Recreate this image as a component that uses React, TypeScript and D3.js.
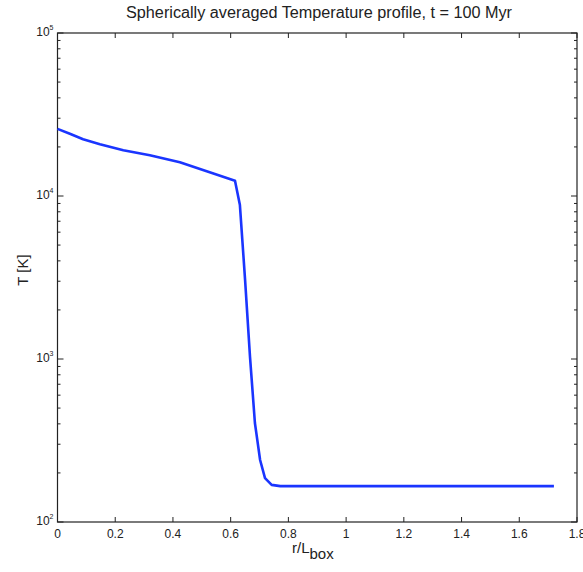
import React from "react";
import * as d3 from "d3";

const rValues = [0, 0.045, 0.0887, 0.147, 0.228, 0.32, 0.424, 0.517, 0.615, 0.632, 0.65, 0.667, 0.684, 0.702, 0.719, 0.742, 0.772, 1.0, 1.3, 1.72];
const tValues = [25800, 24000, 22300, 20800, 19100, 17800, 16100, 14200, 12400, 8800, 3050, 1030, 405, 240, 186, 169, 166, 166, 166, 166];
const xTicks = [0, 0.2, 0.4, 0.6, 0.8, 1, 1.2, 1.4, 1.6, 1.8];
const xTickLabels = ["0", "0.2", "0.4", "0.6", "0.8", "1", "1.2", "1.4", "1.6", "1.8"];
const yDecades = [2, 3, 4, 5];

export default function App() {
  const W = 583, H = 572;
  const left = 57.5, right = 577, top = 33, bottom = 522;
  const x = d3.scaleLinear().domain([0, 1.8]).range([left, right]);
  const y = d3.scaleLog().domain([100, 100000]).range([bottom, top]);
  const pts = rValues.map((r, i) => [r, tValues[i]] as [number, number]);
  const line = d3.line<[number, number]>().x(d => x(d[0])).y(d => y(d[1]))(pts) || "";
  const minor: number[] = [];
  for (let e = 2; e < 5; e++) for (let m = 2; m <= 9; m++) minor.push(m * Math.pow(10, e));
  const font = "'Liberation Sans', Arial, sans-serif";
  const tl = 5;
  return (
    <svg width={W} height={H} style={{ position: "absolute", left: 0, top: 0, background: "#fff" }} fontFamily={font}>
      <rect x={0} y={0} width={W} height={H} fill="#fff" />
      <text x={319} y={18} textAnchor="middle" fontSize={16} fill="#222" textLength={386} lengthAdjust="spacingAndGlyphs">Spherically averaged Temperature profile, t = 100 Myr</text>
      {xTicks.map((t, i) => (
        <g key={"xt" + i}>
          <line x1={x(t)} x2={x(t)} y1={bottom} y2={bottom - tl} stroke="#222" strokeWidth={1} />
          <line x1={x(t)} x2={x(t)} y1={top} y2={top + tl} stroke="#222" strokeWidth={1} />
          <text x={x(t)} y={bottom + 16} textAnchor="middle" fontSize={12} fill="#222">{xTickLabels[i]}</text>
        </g>
      ))}
      {yDecades.map(e => (
        <g key={"yd" + e}>
          <line x1={left} x2={left + tl + 1} y1={y(Math.pow(10, e))} y2={y(Math.pow(10, e))} stroke="#222" />
          <line x1={right} x2={right - tl - 1} y1={y(Math.pow(10, e))} y2={y(Math.pow(10, e))} stroke="#222" />
          <text x={left - 4} y={y(Math.pow(10, e)) + 3} textAnchor="end" fontSize={12} fill="#222">
            10<tspan dy={-6} fontSize={7}>{e}</tspan>
          </text>
        </g>
      ))}
      {minor.map((v, i) => (
        <g key={"mn" + i}>
          <line x1={left} x2={left + 3} y1={y(v)} y2={y(v)} stroke="#222" />
          <line x1={right} x2={right - 3} y1={y(v)} y2={y(v)} stroke="#222" />
        </g>
      ))}
      <rect x={left} y={top} width={right - left} height={bottom - top} fill="none" stroke="#222" strokeWidth={1.2} />
      <path d={line} fill="none" stroke="#1a35ff" strokeWidth={2.6} strokeLinejoin="round" />
      <text x={292} y={553} fontSize={15} fill="#222">r/L<tspan dy={6} fontSize={15}>box</tspan></text>
      <text transform={`translate(28,270) rotate(-90)`} textAnchor="middle" fontSize={15} fill="#222">T [K]</text>
    </svg>
  );
}
